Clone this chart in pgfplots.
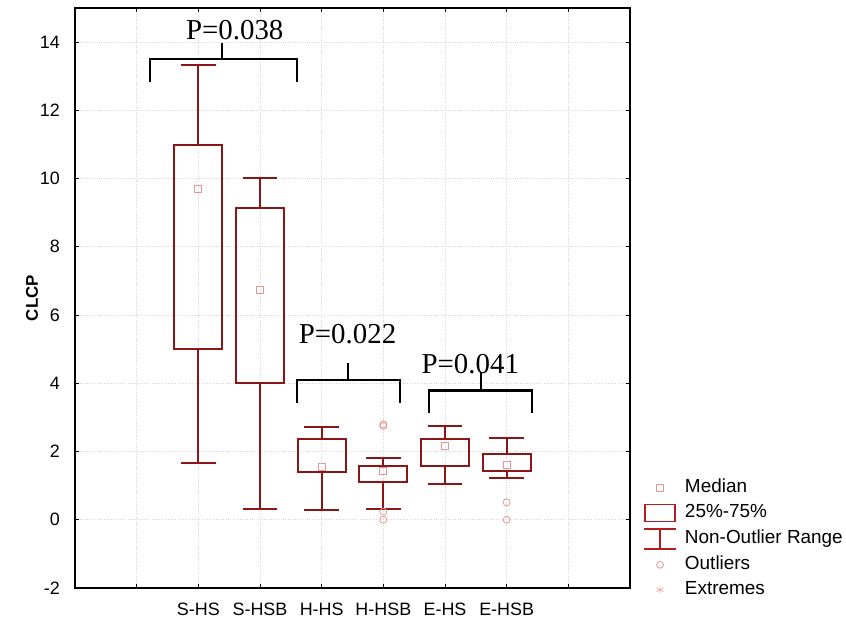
\documentclass[border=0pt]{standalone}
\usepackage{pgfplots}
\pgfplotsset{compat=1.18}
\usepgfplotslibrary{statistics}
\usepackage{fontspec}
\setmainfont{Liberation Serif}
\setsansfont{Liberation Sans}
\definecolor{boxred}{RGB}{140,22,22}
\definecolor{legred}{RGB}{178,30,30}
\definecolor{medpink}{RGB}{228,150,150}
\definecolor{extpink}{RGB}{240,175,175}
\definecolor{gridgray}{RGB}{215,215,215}

\begin{document}
\begin{tikzpicture}
\begin{axis}[
  at={(75bp,32bp)}, anchor=south west,
  scale only axis, width=555bp, height=580bp,
  xmin=-1, xmax=8, ymin=-2, ymax=15,
  xtick={0,...,7},
  xticklabels={,S-HS,S-HSB,H-HS,H-HSB,E-HS,E-HSB,},
  ytick={-2,0,...,14},
  grid=major,
  major grid style={gridgray, dotted, line width=0.8bp},
  axis line style={line width=1.6bp},
  tick style={black, line width=1bp},
  major tick length=4bp,
  ticklabel style={font=\sffamily\fontsize{18}{20}\selectfont},
  /pgf/number format/assume math mode=true,
  yticklabel style={inner sep=0pt, xshift=-15bp},
  xticklabel style={inner sep=0pt, yshift=-15bp},
  ylabel={CLCP},
  ylabel style={font=\sffamily\bfseries\fontsize{17}{20}\selectfont,
    at={(axis description cs:-0.0775,0.5)}, anchor=center},
  clip=false,
  boxplot/draw direction=y,
  boxplot/box extend=0.78,
  boxplot/whisker extend=0.56,
  boxplot/draw/median/.code={},
  legend style={draw=none, fill=none, inner sep=0pt,
    at={(1.0234,0.19)}, anchor=north west,
    font=\sffamily\fontsize{19}{22}\selectfont,
    row sep=5bp,
    nodes={inner sep=0pt, text height=14bp, text depth=4bp},
    /tikz/every odd column/.append style={column sep=8bp}},
  legend cell align=left,
]
% boxes: lower whisker, Q1, median, Q3, upper whisker
\addplot[boxred, line width=2bp, forget plot, boxplot prepared={draw position=1,
  lower whisker=1.65, lower quartile=5.0, median=9.7,
  upper quartile=10.97, upper whisker=13.32}] coordinates {};
\addplot[boxred, line width=2bp, forget plot, boxplot prepared={draw position=2,
  lower whisker=0.32, lower quartile=4.0, median=6.73,
  upper quartile=9.14, upper whisker=10.02}] coordinates {};
\addplot[boxred, line width=2bp, forget plot, boxplot prepared={draw position=3,
  lower whisker=0.28, lower quartile=1.41, median=1.54,
  upper quartile=2.37, upper whisker=2.71}] coordinates {};
\addplot[boxred, line width=2bp, forget plot, boxplot prepared={draw position=4,
  lower whisker=0.32, lower quartile=1.10, median=1.44,
  upper quartile=1.59, upper whisker=1.81}] coordinates {};
\addplot[boxred, line width=2bp, forget plot, boxplot prepared={draw position=5,
  lower whisker=1.05, lower quartile=1.59, median=2.16,
  upper quartile=2.37, upper whisker=2.76}] coordinates {};
\addplot[boxred, line width=2bp, forget plot, boxplot prepared={draw position=6,
  lower whisker=1.23, lower quartile=1.44, median=1.61,
  upper quartile=1.93, upper whisker=2.40}] coordinates {};

% medians
\addplot[only marks, mark=square, mark size=3.5bp, draw=medpink,
  mark options={line width=0.8bp}, forget plot]
  coordinates {(1,9.7) (2,6.73) (3,1.54) (4,1.44) (5,2.16) (6,1.61)};
% outliers
\addplot[only marks, mark=o, mark size=3.5bp, draw=medpink,
  mark options={line width=0.8bp}, forget plot]
  coordinates {(4,2.80) (4,2.75) (4,0.24) (4,0.0) (6,0.51) (6,0.0)};

% brackets
\draw[black, line width=2.2bp] (axis cs:0.216,12.82) -- (axis cs:0.216,13.5) -- (axis cs:2.6,13.5) -- (axis cs:2.6,12.82);
\draw[black, line width=2.2bp] (axis cs:1.38,13.5) -- (axis cs:1.38,13.97);
\node[anchor=base, font=\fontsize{29}{32}\selectfont, inner sep=0pt] at (axis cs:1.59,14.09) {P=0.038};

\draw[black, line width=2.2bp] (axis cs:2.6,3.41) -- (axis cs:2.6,4.09) -- (axis cs:4.27,4.09) -- (axis cs:4.27,3.41);
\draw[black, line width=2.2bp] (axis cs:3.43,4.09) -- (axis cs:3.43,4.59);
\node[anchor=base, font=\fontsize{29}{32}\selectfont, inner sep=0pt] at (axis cs:3.42,5.18) {P=0.022};

\draw[black, line width=2.2bp] (axis cs:4.74,3.12) -- (axis cs:4.74,3.79) -- (axis cs:6.41,3.79) -- (axis cs:6.41,3.12);
\draw[black, line width=2.2bp] (axis cs:5.58,3.79) -- (axis cs:5.58,4.32);
\node[anchor=base, font=\fontsize{29}{32}\selectfont, inner sep=0pt] at (axis cs:5.41,4.29) {P=0.041};

% legend
\addlegendimage{legend image code/.code={
  \path[draw=none] (-7.5bp,-10bp) rectangle (24.5bp,10bp);
  \draw[medpink, line width=0.8bp] plot[only marks, mark=square, mark size=3.5bp] coordinates {(8.5bp,0bp)};}}
\addlegendentry{Median}
\addlegendimage{legend image code/.code={
  \path[draw=none] (-7.5bp,-10bp) rectangle (24.5bp,10bp);
  \draw[legred, line width=1.8bp] (-6.5bp,-8.5bp) rectangle (23.5bp,8.5bp);}}
\addlegendentry{25\%-75\%}
\addlegendimage{legend image code/.code={
  \path[draw=none] (-7.5bp,-10bp) rectangle (24.5bp,10bp);
  \draw[legred, line width=1.8bp] (-7.5bp,10bp) -- (24.5bp,10bp)
    (-7.5bp,-10bp) -- (24.5bp,-10bp) (8.5bp,10bp) -- (8.5bp,-10bp);}}
\addlegendentry{Non-Outlier Range}
\addlegendimage{legend image code/.code={
  \path[draw=none] (-7.5bp,-10bp) rectangle (24.5bp,10bp);
  \draw[medpink, line width=0.8bp] plot[only marks, mark=o, mark size=3.5bp] coordinates {(8.5bp,0bp)};}}
\addlegendentry{Outliers}
\addlegendimage{legend image code/.code={
  \path[draw=none] (-7.5bp,-10bp) rectangle (24.5bp,10bp);
  \draw[extpink, line width=0.8bp] plot[only marks, mark=asterisk, mark size=4bp] coordinates {(8.5bp,0bp)};}}
\addlegendentry{Extremes}
\end{axis}
\pgfresetboundingbox
\path (0bp,0bp) rectangle (846bp,620bp);
\end{tikzpicture}
\end{document}
